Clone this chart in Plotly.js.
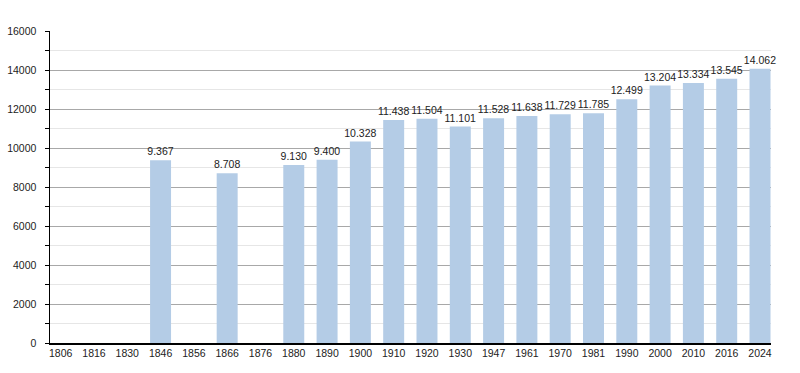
<!DOCTYPE html>
<html>
<head>
<meta charset="utf-8">
<script src="https://cdn.plot.ly/plotly-3.0.1.min.js"></script>
<style>html,body{margin:0;padding:0;background:#fff;}#chart{width:800px;height:373px;}</style>
</head>
<body>
<div id="chart"></div>
<script>
var years = ["1806","1816","1830","1846","1856","1866","1876","1880","1890","1900","1910","1920","1930","1947","1961","1970","1981","1990","2000","2010","2016","2024"];
var population = [null,null,null,9367,null,8708,null,9130,9400,10328,11438,11504,11101,11528,11638,11729,11785,12499,13204,13334,13545,14062];
var yTicks = [0,2000,4000,6000,8000,10000,12000,14000,16000];

function fmt(v){ if(v===null) return ""; return String(v).replace(/\B(?=(\d{3})+(?!\d))/g,"."); }
var labels = population.map(fmt);

var font = "Liberation Sans, Arial, sans-serif";
var trace = {
  type: "bar",
  x: years,
  y: population,
  text: labels,
  textposition: "outside",
  constraintext: "none",
  cliponaxis: false,
  textfont: {family: font, size: 10.5, color: "#222"},
  marker: {color: "#b4cce6"},
  hoverinfo: "none"
};
var layout = {
  width: 800, height: 373,
  margin: {l: 50, r: 29, t: 31, b: 30},
  paper_bgcolor: "#fff", plot_bgcolor: "#fff",
  bargap: 0.37,
  showlegend: false,
  font: {family: font, size: 10.5, color: "#222"},
  xaxis: {
    type: "category",
    categoryorder: "array", categoryarray: years,
    range: [-0.32, years.length - 1 + 0.33],
    showline: true, linecolor: "#000", linewidth: 1.5,
    ticks: "", showgrid: false, zeroline: false,
    tickfont: {family: font, size: 10.5, color: "#222"},
    fixedrange: true
  },
  yaxis: {
    range: [0, 16000],
    tickvals: yTicks,
    ticktext: yTicks.map(String),
    showline: true, linecolor: "#000", linewidth: 1.5,
    ticks: "outside", ticklen: 4, tickcolor: "#000", tickwidth: 1,
    showgrid: true, gridcolor: "#a8a8a8", gridwidth: 1,
    zeroline: false,
    minor: {dtick: 1000, tick0: 0, ticks: "outside", ticklen: 4, tickcolor: "#000", showgrid: true, gridcolor: "#e6e6e6", gridwidth: 1},
    tickfont: {family: font, size: 10.5, color: "#222"},
    ticklabelstandoff: 6,
    fixedrange: true
  }
};
Plotly.newPlot("chart", [trace], layout, {staticPlot: true, displayModeBar: false});
</script>
</body>
</html>
